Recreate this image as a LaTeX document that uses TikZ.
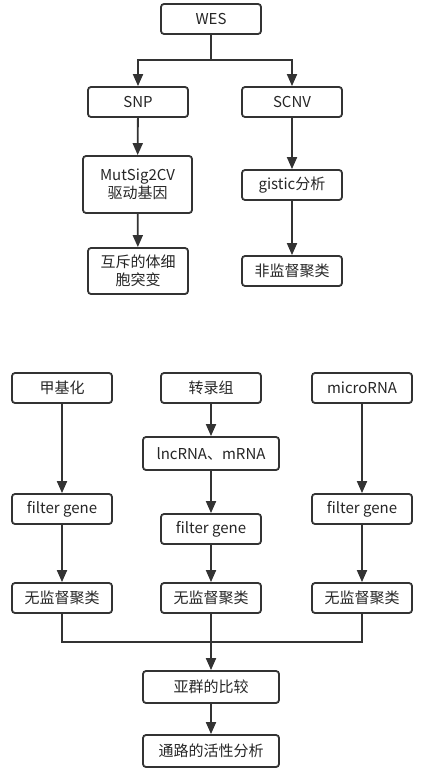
\documentclass[tikz,border=0pt]{standalone}
\usepackage{fontspec}
\setmainfont{Noto Sans CJK SC}
\usetikzlibrary{arrows.meta}
\definecolor{ln}{HTML}{333333}
\begin{document}
\begin{tikzpicture}[x=1pt,y=-1pt,
  box/.style={draw=ln,line width=1.8pt,rounded corners=3pt,fill=white,inner sep=0pt,align=center,font=\fontsize{15}{18}\selectfont,text=black!85},
  arr/.style={draw=ln,line width=1.8pt,-{Triangle[length=12pt,width=10pt]}},
  ln/.style={draw=ln,line width=1.8pt}]
\useasboundingbox (0,0) rectangle (426,778);
% top part
\node[box,minimum width=100pt,minimum height=30pt] (wes) at (211,19) {WES};
\node[box,minimum width=100pt,minimum height=30pt] (snp) at (138,102) {SNP};
\node[box,minimum width=100pt,minimum height=30pt] (scnv) at (292,102) {SCNV};
\node[box,minimum width=109pt,minimum height=57pt] (mut) at (137.5,184.5) {MutSig2CV\\驱动基因};
\node[box,minimum width=100pt,minimum height=30pt] (gis) at (292,185) {gistic分析};
\node[box,minimum width=100pt,minimum height=46pt] (hu) at (138,271) {互斥的体细\\胞突变};
\node[box,minimum width=100pt,minimum height=30pt] (fei) at (292,271) {非监督聚类};
\coordinate (j1) at (211,60);
\draw[arr] (wes.south) -- (j1) -| (snp.north);
\draw[arr] (j1) -| (scnv.north);
\draw[arr] (snp) -- (mut);
\draw[arr] (mut) -- (hu);
\draw[arr] (scnv) -- (gis);
\draw[arr] (gis) -- (fei);
% bottom part
\node[box,minimum width=100pt,minimum height=30pt] (jia) at (62,388) {甲基化};
\node[box,minimum width=100pt,minimum height=30pt] (zhuan) at (211,388) {转录组};
\node[box,minimum width=100pt,minimum height=30pt] (mic) at (362,388) {microRNA};
\node[box,minimum width=136pt,minimum height=33pt] (lnc) at (211,453.5) {lncRNA、mRNA};
\node[box,minimum width=100pt,minimum height=30pt] (f1) at (62,509) {filter gene};
\node[box,minimum width=100pt,minimum height=30pt] (f2) at (211,529) {filter gene};
\node[box,minimum width=100pt,minimum height=30pt] (f3) at (362,509) {filter gene};
\node[box,minimum width=100pt,minimum height=30pt] (c1) at (62,598) {无监督聚类};
\node[box,minimum width=100pt,minimum height=30pt] (c2) at (211,598) {无监督聚类};
\node[box,minimum width=100pt,minimum height=30pt] (c3) at (362,598) {无监督聚类};
\node[box,minimum width=136pt,minimum height=32pt] (ya) at (211,687) {亚群的比较};
\node[box,minimum width=136pt,minimum height=32pt] (tong) at (211,751) {通路的活性分析};
\coordinate (j2) at (211,642);
\draw[arr] (jia) -- (f1);
\draw[arr] (f1) -- (c1);
\draw[arr] (zhuan) -- (lnc);
\draw[arr] (lnc) -- (f2);
\draw[arr] (f2) -- (c2);
\draw[arr] (mic) -- (f3);
\draw[arr] (f3) -- (c3);
\draw[ln] (c1.south) |- (j2);
\draw[ln] (c3.south) |- (j2);
\draw[arr] (c2) -- (ya);
\draw[arr] (ya) -- (tong);
\end{tikzpicture}
\end{document}
